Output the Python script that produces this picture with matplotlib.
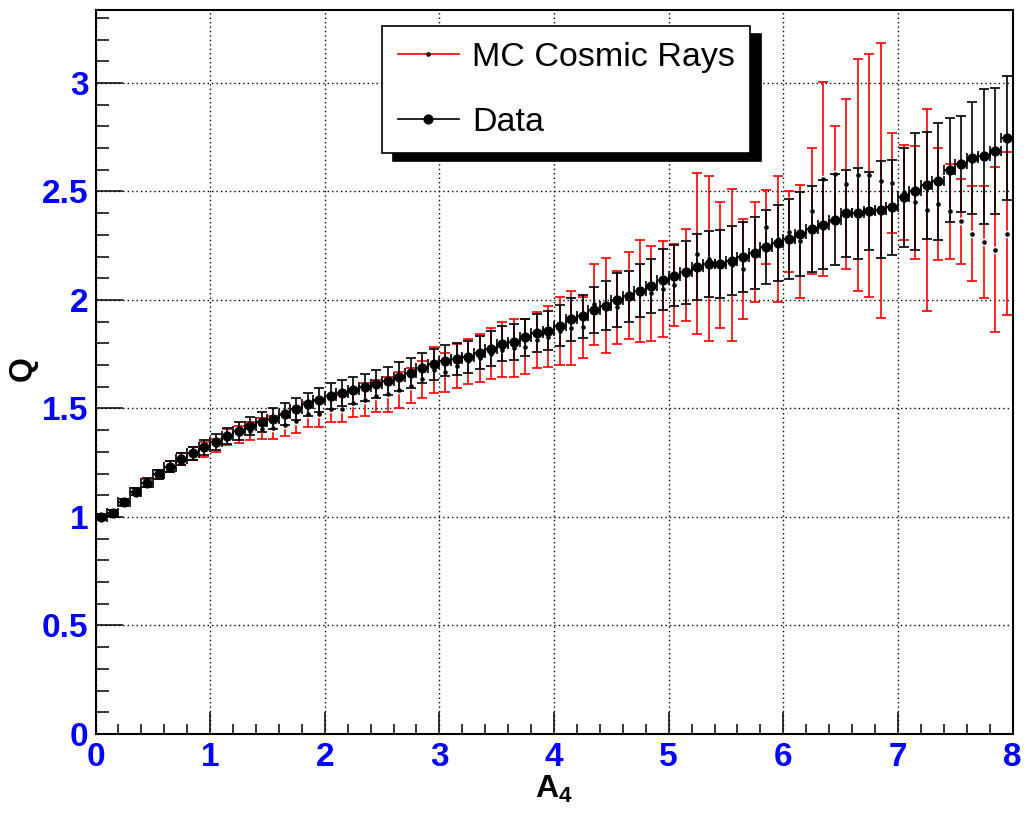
import numpy as np
import matplotlib
matplotlib.use('Agg')
import matplotlib.pyplot as plt
from matplotlib.lines import Line2D
from matplotlib.ticker import MultipleLocator, FuncFormatter

plt.rcParams['font.family'] = 'Liberation Sans'
plt.rcParams['mathtext.fontset'] = 'custom'
plt.rcParams['mathtext.rm'] = 'Liberation Sans'
plt.rcParams['mathtext.bf'] = 'Liberation Sans:bold'

# 80 bins of width 0.1 in A4
bin_edges = np.linspace(0, 8, 81)
a4 = 0.5 * (bin_edges[:-1] + bin_edges[1:])

q_data = [
    1.000, 1.020, 1.068, 1.117, 1.158, 1.196, 1.232, 1.266, 1.293, 1.321,
    1.345, 1.374, 1.396, 1.419, 1.438, 1.453, 1.475, 1.496, 1.519, 1.538,
    1.557, 1.569, 1.584, 1.597, 1.611, 1.626, 1.646, 1.664, 1.685, 1.703,
    1.720, 1.726, 1.738, 1.757, 1.776, 1.799, 1.807, 1.828, 1.848, 1.859,
    1.882, 1.910, 1.925, 1.953, 1.974, 1.999, 2.017, 2.043, 2.065, 2.094,
    2.112, 2.127, 2.152, 2.166, 2.166, 2.181, 2.197, 2.217, 2.244, 2.263,
    2.281, 2.304, 2.327, 2.347, 2.370, 2.400, 2.400, 2.411, 2.416, 2.427,
    2.474, 2.500, 2.528, 2.546, 2.597, 2.626, 2.654, 2.661, 2.688, 2.746]
q_data_err = [
    0.012, 0.014, 0.016, 0.018, 0.020, 0.022, 0.025, 0.028, 0.031, 0.034,
    0.036, 0.038, 0.040, 0.042, 0.045, 0.047, 0.049, 0.051, 0.053, 0.056,
    0.058, 0.060, 0.062, 0.063, 0.065, 0.066, 0.067, 0.068, 0.069, 0.070,
    0.072, 0.074, 0.075, 0.077, 0.079, 0.081, 0.083, 0.086, 0.088, 0.091,
    0.094, 0.097, 0.100, 0.107, 0.112, 0.125, 0.118, 0.122, 0.125, 0.140,
    0.140, 0.145, 0.150, 0.152, 0.155, 0.160, 0.162, 0.165, 0.170, 0.175,
    0.184, 0.195, 0.200, 0.205, 0.210, 0.200, 0.210, 0.180, 0.225, 0.220,
    0.228, 0.270, 0.245, 0.270, 0.240, 0.220, 0.260, 0.310, 0.290, 0.284]

q_mc = [
    1.000, 1.020, 1.068, 1.117, 1.158, 1.196, 1.232, 1.266, 1.293, 1.312,
    1.330, 1.368, 1.380, 1.396, 1.407, 1.410, 1.422, 1.442, 1.473, 1.475,
    1.496, 1.499, 1.525, 1.541, 1.557, 1.565, 1.585, 1.605, 1.634, 1.677,
    1.667, 1.695, 1.717, 1.733, 1.752, 1.770, 1.777, 1.785, 1.815, 1.830,
    1.856, 1.870, 1.874, 1.979, 1.975, 1.966, 2.020, 2.040, 2.030, 2.050,
    2.070, 2.115, 2.213, 2.190, 2.160, 2.160, 2.144, 2.220, 2.335, 2.280,
    2.315, 2.270, 2.410, 2.557, 2.580, 2.534, 2.575, 2.575, 2.550, 2.540,
    2.496, 2.450, 2.416, 2.443, 2.408, 2.362, 2.306, 2.266, 2.232, 2.306]
q_mc_err = [
    0.012, 0.013, 0.015, 0.017, 0.019, 0.021, 0.024, 0.027, 0.030, 0.035,
    0.030, 0.036, 0.040, 0.043, 0.050, 0.053, 0.050, 0.057, 0.059, 0.060,
    0.060, 0.062, 0.063, 0.076, 0.074, 0.082, 0.082, 0.080, 0.085, 0.107,
    0.090, 0.100, 0.105, 0.112, 0.117, 0.127, 0.133, 0.128, 0.130, 0.140,
    0.156, 0.170, 0.140, 0.187, 0.220, 0.167, 0.200, 0.235, 0.220, 0.220,
    0.190, 0.210, 0.370, 0.380, 0.290, 0.350, 0.230, 0.230, 0.170, 0.290,
    0.185, 0.260, 0.290, 0.445, 0.220, 0.390, 0.535, 0.560, 0.635, 0.230,
    0.220, 0.260, 0.465, 0.257, 0.220, 0.195, 0.217, 0.257, 0.380, 0.377]

fig = plt.figure(figsize=(10.26, 8.13), dpi=100)
ax = fig.add_axes([0.0931, 0.0972, 0.8938, 0.8905])

# MC: red error bars, small black dots with a white gap around them
ax.errorbar(a4, q_mc, yerr=q_mc_err, fmt='none', ecolor='red',
            elinewidth=1.2, capsize=3.5, capthick=1.2, zorder=3)
ax.plot(a4, q_mc, 'o', ms=4.5, color='white', mec='white', zorder=3.5)

# data on top, with bin-width x errors
ax.errorbar(a4, q_data, xerr=0.05, yerr=q_data_err, fmt='none', ecolor='black',
            elinewidth=1.2, capsize=3.5, capthick=1.2, zorder=4)
ax.plot(a4, q_mc, 'o', ms=2.3, color='black', zorder=5)
ax.plot(a4, q_data, 'o', ms=6.3, color='black', zorder=6)

ax.set_xlim(0, 8)
ax.set_ylim(0, 3.336)
ax.set_axisbelow(True)
ax.grid(True, which='major', color='black', linestyle=(0, (1, 2.2)), linewidth=1.0)

ax.xaxis.set_major_locator(MultipleLocator(1))
ax.xaxis.set_minor_locator(MultipleLocator(0.2))
ax.yaxis.set_major_locator(MultipleLocator(0.5))
ax.yaxis.set_minor_locator(MultipleLocator(0.1))
ax.yaxis.set_major_formatter(FuncFormatter(lambda v, p: '%g' % v))

ax.tick_params(which='both', direction='in', top=False, right=False,
               width=1.1, colors='black', labelcolor='blue', labelsize=24)
ax.tick_params(axis='x', which='major', length=15.8, pad=6)
ax.tick_params(axis='x', which='minor', length=7.2)
ax.tick_params(axis='y', which='major', length=19.4, pad=5)
ax.tick_params(axis='y', which='minor', length=9.4)
for lab in ax.get_xticklabels() + ax.get_yticklabels():
    lab.set_fontweight('bold')
for s in ax.spines.values():
    s.set_linewidth(1.5)

fig.text(0.5395, 0.018, r'$\mathbf{A_4}$', fontsize=23, ha='center', va='baseline')
fig.text(0.0225, 1 - 369 / 813, 'Q', fontsize=23, fontweight='bold',
         rotation=90, ha='center', va='center')

handles = [
    Line2D([], [], color='red', lw=1.2, marker='o', ms=2.3,
           mfc='black', mec='black'),
    Line2D([], [], color='black', lw=1.2, marker='o', ms=6.3),
]
leg = ax.legend(handles, ['MC Cosmic Rays', 'Data'], loc='upper left',
                bbox_to_anchor=(0.3124, 0.978), fontsize=24.5, frameon=True,
                fancybox=False, framealpha=1, edgecolor='black',
                handlelength=1.8, handletextpad=0.38, borderpad=0.46,
                labelspacing=1.0, borderaxespad=0,
                shadow={'ox': 8, 'oy': -5.5, 'color': 'black', 'alpha': 1})
leg.get_frame().set_linewidth(1.2)
leg.set_zorder(10)

fig.savefig('out.png', dpi=100)
